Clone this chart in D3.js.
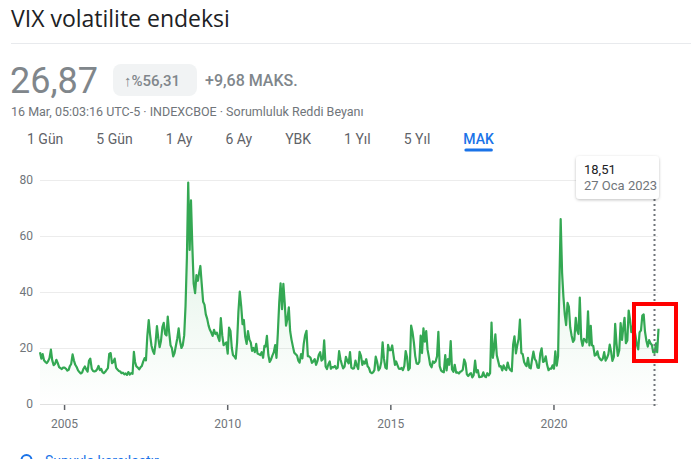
<!DOCTYPE html>
<html>
<head>
<meta charset="utf-8">
<script src="https://cdn.jsdelivr.net/npm/d3@7"></script>
<style>
    body { margin: 0; background: #fff; font-family: Roboto, Arial, sans-serif; }
    svg { display: block; }
</style>
</head>
<body>
<svg id="chart" width="691" height="459"></svg>
<script>
// VIX closes, two per month (1st and 16th)
var vix2004 = [18.5, 16.2, 17.8, 15.6, 15.0, 14.6, 15.3, 16.4, 19.4, 15.6, 13.9, 14.3, 15.8, 14.7, 13.2, 12.8, 12.5, 13.0]; // from April
var vix2005 = [13.0, 12.6, 11.9, 12.2, 13.5, 14.3, 17.7, 15.5, 14.0, 13.2, 12.0, 11.4, 10.9, 11.2, 12.6, 13.4, 12.3, 11.6, 15.4, 16.2, 12.6, 11.8, 11.6, 11.8];
var vix2006 = [12.4, 13.6, 12.1, 12.5, 11.4, 11.0, 11.5, 12.2, 12.8, 17.9, 18.2, 14.6, 15.0, 16.2, 12.9, 12.3, 11.8, 11.6, 11.0, 11.2, 10.6, 10.9, 10.4, 11.4];
var vix2007 = [10.5, 11.0, 10.8, 18.6, 15.0, 13.4, 13.0, 12.4, 13.1, 13.6, 15.2, 16.4, 15.6, 24.2, 30.0, 24.8, 20.8, 19.0, 17.9, 21.6, 27.8, 23.5, 20.3, 22.5];
var vix2008 = [27.5, 29.0, 25.0, 24.5, 31.2, 25.8, 21.0, 20.0, 17.0, 18.2, 21.0, 23.5, 27.0, 22.5, 20.0, 21.0, 24.5, 35.0, 52.0, 79.1, 55.0, 72.7, 56.5, 43.0];
var vix2009 = [39.6, 46.0, 44.0, 47.0, 49.3, 43.0, 36.5, 35.5, 32.0, 30.5, 28.0, 26.5, 25.5, 24.3, 26.5, 25.0, 25.5, 23.8, 22.5, 30.7, 24.5, 21.0, 21.5, 22.0];
var vix2010 = [18.0, 27.3, 26.1, 20.0, 17.5, 17.0, 16.2, 22.0, 33.0, 40.1, 35.0, 28.5, 30.0, 24.0, 21.5, 26.0, 23.0, 22.0, 19.0, 20.0, 18.5, 21.5, 18.0, 17.8];
var vix2011 = [17.5, 18.5, 16.5, 20.8, 20.5, 24.3, 17.5, 15.0, 15.9, 17.3, 18.5, 21.0, 16.5, 25.2, 36.4, 43.1, 33.9, 42.9, 36.2, 28.0, 30.5, 34.5, 26.0, 23.0];
var vix2012 = [20.5, 18.3, 17.8, 17.3, 15.5, 14.8, 17.8, 16.3, 21.5, 24.5, 26.1, 17.1, 17.0, 16.5, 14.7, 15.2, 16.0, 14.0, 15.3, 17.5, 18.5, 15.5, 16.0, 22.7];
var vix2013 = [13.4, 12.5, 14.2, 15.2, 12.6, 13.2, 13.1, 13.6, 12.6, 13.0, 18.9, 16.0, 14.2, 12.7, 13.4, 16.8, 15.4, 14.5, 18.5, 13.0, 12.6, 12.8, 15.5, 13.7];
var vix2014 = [12.5, 18.6, 17.2, 14.0, 15.2, 14.4, 16.0, 13.5, 12.9, 11.4, 11.0, 11.3, 12.1, 16.9, 15.0, 12.0, 12.8, 15.0, 22.0, 16.1, 13.0, 12.6, 21.1, 19.2];
var vix2015 = [19.2, 20.9, 17.2, 14.0, 15.2, 13.9, 12.6, 12.5, 12.9, 12.1, 13.6, 18.9, 16.8, 12.1, 12.8, 28.0, 25.6, 22.0, 17.1, 14.5, 14.3, 15.1, 24.4, 18.2];
var vix2016 = [27.0, 22.3, 26.0, 19.4, 16.9, 14.0, 13.1, 15.2, 14.7, 15.2, 17.0, 25.8, 13.5, 12.0, 11.5, 11.3, 17.5, 12.0, 16.0, 14.0, 22.5, 12.3, 11.5, 14.0];
var vix2017 = [11.2, 11.3, 10.9, 11.5, 11.7, 12.2, 15.9, 14.6, 10.6, 10.0, 10.7, 11.0, 9.5, 10.3, 15.5, 11.3, 12.1, 9.6, 9.7, 9.8, 11.3, 9.9, 9.6, 11.0];
var vix2018 = [10.2, 11.0, 29.1, 16.5, 19.6, 24.9, 17.4, 15.4, 13.4, 13.5, 12.0, 13.8, 12.7, 12.1, 14.8, 12.9, 12.1, 11.7, 21.3, 24.2, 18.1, 21.0, 23.2, 30.1];
var vix2019 = [18.2, 17.8, 15.0, 14.0, 13.5, 16.5, 13.0, 12.7, 16.0, 18.7, 16.0, 15.3, 13.0, 12.9, 18.0, 19.9, 15.0, 15.3, 17.0, 14.0, 12.1, 12.6, 12.6, 13.8];
var vix2020 = [12.6, 18.8, 13.7, 17.1, 41.9, 66.0, 46.8, 38.2, 31.9, 28.2, 36.1, 34.7, 27.3, 24.5, 22.2, 23.0, 30.8, 26.4, 25.0, 38.0, 23.1, 20.8, 23.3, 22.8];
var vix2021 = [22.0, 33.1, 20.9, 27.9, 21.0, 20.7, 17.3, 17.6, 18.8, 16.8, 16.0, 15.6, 16.2, 18.5, 15.5, 16.4, 17.8, 21.2, 18.8, 15.4, 16.8, 28.6, 21.6, 17.2];
var vix2022 = [19.2, 28.9, 22.9, 27.6, 30.8, 21.7, 22.7, 33.4, 30.2, 25.7, 27.8, 27.2, 24.6, 21.3, 19.5, 25.6, 26.3, 31.6, 32.0, 25.8, 22.5, 20.5, 22.8, 21.7];
var vix2023 = [21.1, 18.5, 18.3, 21.7, 18.5, 26.87]; // to 16 March

var seriesByYear = [
    [2004, 3, vix2004], [2005, 0, vix2005], [2006, 0, vix2006], [2007, 0, vix2007],
    [2008, 0, vix2008], [2009, 0, vix2009], [2010, 0, vix2010], [2011, 0, vix2011],
    [2012, 0, vix2012], [2013, 0, vix2013], [2014, 0, vix2014], [2015, 0, vix2015],
    [2016, 0, vix2016], [2017, 0, vix2017], [2018, 0, vix2018], [2019, 0, vix2019],
    [2020, 0, vix2020], [2021, 0, vix2021], [2022, 0, vix2022], [2023, 0, vix2023]
];

var yearTicks = [2005, 2010, 2015, 2020];
var valueTicks = [0, 20, 40, 60, 80];
var rangeTabs = ["1 Gün", "5 Gün", "1 Ay", "6 Ay", "YBK", "1 Yıl", "5 Yıl", "MAK"];
var activeTab = "MAK";

// quote header
var title = "VIX volatilite endeksi";
var lastPrice = 26.87;
var changePct = 56.31;
var changeAbs = 9.68;
var quoteInfo = "16 Mar, 05:03:16 UTC-5 · INDEXCBOE · Sorumluluk Reddi Beyanı";
var compareLabel = "Şunuyla karşılaştır";

// hovered point
var hoverDate = new Date(2023, 0, 27);
var hoverValue = 18.51;

// Turkish number / date formats
var trNum = d3.formatLocale({ decimal: ",", thousands: ".", grouping: [3], currency: ["", "₺"] });
var fmt2 = trNum.format(".2f");
var trTime = d3.timeFormatLocale({
    dateTime: "%d %b %Y %X", date: "%d.%m.%Y", time: "%H:%M:%S",
    periods: ["", ""],
    days: ["Pazar", "Pazartesi", "Salı", "Çarşamba", "Perşembe", "Cuma", "Cumartesi"],
    shortDays: ["Paz", "Pzt", "Sal", "Çar", "Per", "Cum", "Cmt"],
    months: ["Ocak", "Şubat", "Mart", "Nisan", "Mayıs", "Haziran", "Temmuz", "Ağustos", "Eylül", "Ekim", "Kasım", "Aralık"],
    shortMonths: ["Oca", "Şub", "Mar", "Nis", "May", "Haz", "Tem", "Ağu", "Eyl", "Eki", "Kas", "Ara"]
});
var fmtDate = trTime.format("%-d %b %Y");

// flatten the yearly arrays into dated points
var data = [];
seriesByYear.forEach(function(row) {
    var year = row[0], firstMonth = row[1];
    row[2].forEach(function(v, i) {
        var m = firstMonth + Math.floor(i / 2);
        data.push({ time: new Date(year, m, i % 2 ? 16 : 1), value: v });
    });
});

var svg = d3.select("#chart");
var grey = "#70757a";

// ---- Header ----
svg.append("text")
    .attr("x", 11).attr("y", 27)
    .attr("font-size", 23).attr("fill", "#202124")
    .attr("font-family", "'Open Sans', Roboto, sans-serif")
    .text(title);

svg.append("line")
    .attr("x1", 11).attr("x2", 691)
    .attr("y1", 43.5).attr("y2", 43.5)
    .attr("stroke", "#e8eaed");

svg.append("text")
    .attr("x", 10).attr("y", 93)
    .attr("font-size", 36).attr("fill", "#80868b")
    .text(fmt2(lastPrice));

svg.append("rect")
    .attr("x", 113).attr("y", 64)
    .attr("width", 84).attr("height", 32)
    .attr("rx", 8)
    .attr("fill", "#f1f3f4");

svg.append("text")
    .attr("x", 124).attr("y", 85.5)
    .attr("font-size", 15).attr("fill", "#80868b").attr("font-weight", 500)
    .text("↑%" + fmt2(changePct));

svg.append("text")
    .attr("x", 205).attr("y", 85.5)
    .attr("font-size", 16).attr("fill", "#80868b").attr("font-weight", 500)
    .text("+" + fmt2(changeAbs) + " MAKS.");

svg.append("text")
    .attr("x", 11).attr("y", 115.5)
    .attr("font-size", 12.5).attr("fill", grey)
    .text(quoteInfo);

// range tabs, 33px apart
var tabX = 27;
rangeTabs.forEach(function(label) {
    var active = label === activeTab;
    var t = svg.append("text")
        .attr("x", tabX).attr("y", 144)
        .attr("font-size", 14)
        .attr("font-weight", active ? 500 : 400)
        .attr("fill", active ? "#1a73e8" : "#5f6368")
        .text(label);
    var w = t.node().getComputedTextLength();
    if (active) {
        svg.append("rect")
            .attr("x", tabX + 1).attr("y", 148.5)
            .attr("width", w - 2).attr("height", 3)
            .attr("rx", 1.5)
            .attr("fill", "#1a73e8");
    }
    tabX += w + 33;
});

// ---- Chart ----
var x = d3.scaleTime()
    .domain(d3.extent(data, function(d) { return d.time; }))
    .range([40, 658.5]);

var y = d3.scaleLinear()
    .domain([0, 80])
    .range([404, 180]);

var defs = svg.append("defs");
var grad = defs.append("linearGradient")
    .attr("id", "areaFill")
    .attr("gradientUnits", "userSpaceOnUse")
    .attr("x1", 0).attr("x2", 0)
    .attr("y1", y(80)).attr("y2", y(0));
grad.append("stop").attr("offset", "0%").attr("stop-color", "#34a853").attr("stop-opacity", 0.18);
grad.append("stop").attr("offset", "100%").attr("stop-color", "#34a853").attr("stop-opacity", 0);

// grid lines
svg.append("g")
    .selectAll("line")
    .data(valueTicks)
    .enter()
    .append("line")
    .attr("x1", 40).attr("x2", 658)
    .attr("y1", function(d) { return Math.round(y(d)) + 0.5; })
    .attr("y2", function(d) { return Math.round(y(d)) + 0.5; })
    .attr("stroke", function(d) { return d === 0 ? "#e0e0e0" : "#ececec"; });

// y labels
svg.append("g")
    .selectAll("text")
    .data(valueTicks)
    .enter()
    .append("text")
    .attr("x", 33)
    .attr("y", function(d) { return y(d) + 4; })
    .attr("text-anchor", "end")
    .attr("font-size", 12)
    .attr("fill", grey)
    .text(function(d) { return d; });

// x ticks and labels
var xTicks = svg.append("g")
    .selectAll("g")
    .data(yearTicks)
    .enter()
    .append("g")
    .attr("transform", function(d) { return "translate(" + x(new Date(d, 0, 1)) + ",0)"; });

xTicks.append("line")
    .attr("y1", 405).attr("y2", 410)
    .attr("stroke", "#5f6368")
    .attr("stroke-width", 1.5);

xTicks.append("text")
    .attr("y", 428)
    .attr("text-anchor", "middle")
    .attr("font-size", 12)
    .attr("fill", grey)
    .text(function(d) { return d; });

var area = d3.area()
    .x(function(d) { return x(d.time); })
    .y0(y(0))
    .y1(function(d) { return y(d.value); });

var line = d3.line()
    .x(function(d) { return x(d.time); })
    .y(function(d) { return y(d.value); });

svg.append("path")
    .datum(data)
    .attr("d", area)
    .attr("fill", "url(#areaFill)");

svg.append("path")
    .datum(data)
    .attr("d", line)
    .attr("fill", "none")
    .attr("stroke", "#34a853")
    .attr("stroke-width", 2.2)
    .attr("stroke-linejoin", "round");

// hover line + tooltip
var hx = Math.round(x(hoverDate)) + 0.5;
svg.append("line")
    .attr("x1", hx).attr("x2", hx)
    .attr("y1", 199).attr("y2", 406)
    .attr("stroke", "#70757a")
    .attr("stroke-width", 2)
    .attr("stroke-dasharray", "2,3");

defs.append("filter")
    .attr("id", "tipShadow")
    .attr("x", "-20%").attr("y", "-20%").attr("width", "140%").attr("height", "150%")
    .append("feDropShadow")
    .attr("dx", 0).attr("dy", 1)
    .attr("stdDeviation", 1.5)
    .attr("flood-color", "#000")
    .attr("flood-opacity", 0.25);

var tip = svg.append("g").attr("transform", "translate(576,156)");
tip.append("rect")
    .attr("width", 83).attr("height", 43)
    .attr("rx", 4)
    .attr("fill", "#fff")
    .attr("filter", "url(#tipShadow)");
tip.append("text")
    .attr("x", 8).attr("y", 18)
    .attr("font-size", 13).attr("fill", "#202124")
    .text(fmt2(hoverValue));
tip.append("text")
    .attr("x", 8).attr("y", 34)
    .attr("font-size", 13).attr("fill", grey)
    .text(fmtDate(hoverDate));

// red highlight box
svg.append("rect")
    .attr("x", 634).attr("y", 304)
    .attr("width", 42).attr("height", 57)
    .attr("fill", "none")
    .attr("stroke", "#ff0000")
    .attr("stroke-width", 4);

// compare link (cut off at the bottom, as in the page)
svg.append("circle")
    .attr("cx", 26.5).attr("cy", 460)
    .attr("r", 5)
    .attr("fill", "none")
    .attr("stroke", "#1a73e8")
    .attr("stroke-width", 2);
svg.append("text")
    .attr("x", 45).attr("y", 466)
    .attr("font-size", 14).attr("fill", "#1a73e8")
    .text(compareLabel);
</script>
</body>
</html>
